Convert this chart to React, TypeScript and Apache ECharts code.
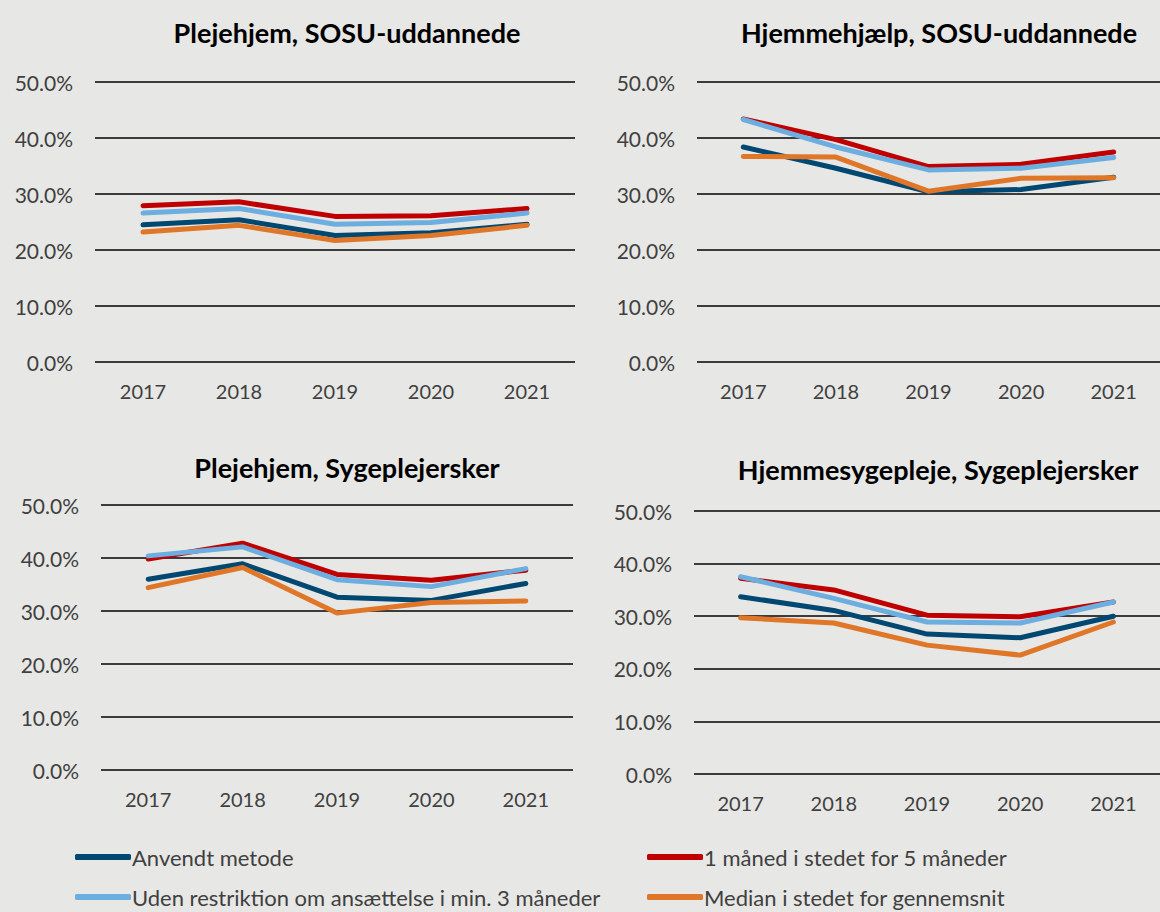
import React, { useEffect, useRef } from "react";
import * as echarts from "echarts";

const years = ["2017", "2018", "2019", "2020", "2021"];
const seriesNames = [
  "Anvendt metode",
  "1 måned i stedet for 5 måneder",
  "Uden restriktion om ansættelse i min. 3 måneder",
  "Median i stedet for gennemsnit",
];
const colors = ["#004872", "#C00000", "#6CAEE0", "#E07628"];
const titles = [
  "Plejehjem, SOSU-uddannede",
  "Hjemmehjælp, SOSU-uddannede",
  "Plejehjem, Sygeplejersker",
  "Hjemmesygepleje, Sygeplejersker",
];

// values in percent, series order: Anvendt, 1 måned, Uden restriktion, Median
const plejehjemSosu = [
  [24.5, 25.4, 22.6, 23.1, 24.6],
  [27.9, 28.6, 26.0, 26.1, 27.4],
  [26.6, 27.4, 24.6, 24.9, 26.6],
  [23.2, 24.4, 21.7, 22.6, 24.4],
];
const hjemmehjaelpSosu = [
  [38.4, 34.6, 30.4, 30.8, 33.0],
  [43.4, 39.7, 34.9, 35.3, 37.5],
  [43.3, 38.4, 34.3, 34.6, 36.5],
  [36.7, 36.6, 30.5, 32.8, 32.9],
];
const plejehjemSyge = [
  [36.0, 38.9, 32.6, 32.0, 35.2],
  [39.8, 42.8, 36.9, 35.8, 37.7],
  [40.4, 42.1, 35.9, 34.6, 38.0],
  [34.4, 38.2, 29.6, 31.6, 31.9],
];
const hjemmesygeplejeSyge = [
  [33.7, 31.1, 26.6, 25.9, 30.0],
  [37.2, 35.0, 30.2, 29.9, 32.7],
  [37.5, 33.4, 28.9, 28.7, 32.7],
  [29.7, 28.7, 24.5, 22.6, 28.9],
];
const panels = [plejehjemSosu, hjemmehjaelpSosu, plejehjemSyge, hjemmesygeplejeSyge];
const yTicks = { min: 0, max: 50, interval: 10 };

const FONT = "Lato, 'Open Sans', sans-serif";
const TEXT = "#404040";

export default function App() {
  const ref = useRef<HTMLDivElement>(null);
  useEffect(() => {
    document.body.style.margin = "0";
    if (!ref.current) return;
    const chart = echarts.init(ref.current, undefined, { renderer: "svg" });

    const grids = [
      { left: 95, top: 82, width: 480, height: 280 },
      { left: 697, top: 82, width: 467, height: 280 },
      { left: 101, top: 505, width: 472, height: 265 },
      { left: 694, top: 511, width: 470, height: 263 },
    ];
    const titlePos = [
      { left: 342, top: 14 },
      { left: 934, top: 14 },
      { left: 342, top: 449 },
      { left: 933, top: 451 },
    ];
    const legendPos = [
      { left: 75, top: 846 },
      { left: 647, top: 846 },
      { left: 75, top: 886 },
      { left: 647, top: 886 },
    ];

    const series: any[] = [];
    panels.forEach((panel, gi) => {
      panel.forEach((vals, si) => {
        series.push({
          type: "line",
          name: seriesNames[si],
          xAxisIndex: gi,
          yAxisIndex: gi,
          data: vals,
          symbol: "none",
          smooth: false,
          color: colors[si],
          lineStyle: { width: 5, color: colors[si], cap: "round", join: "round" },
        });
      });
    });

    chart.setOption({
      animation: false,
      backgroundColor: "#E7E7E5",
      textStyle: { fontFamily: FONT },
      title: titles.map((t, i) => ({
        text: t,
        left: titlePos[i].left,
        top: titlePos[i].top,
        textAlign: "center",
        textStyle: { fontFamily: FONT, fontSize: 27, fontWeight: "bold", color: "#000" },
      })),
      legend: seriesNames.map((n, i) => ({
        data: [n],
        left: legendPos[i].left,
        top: legendPos[i].top,
        padding: 0,
        icon: "roundRect",
        itemWidth: 56,
        itemHeight: 6,
        itemGap: 0,
        selectedMode: false,
        textStyle: { fontFamily: FONT, fontSize: 22, color: TEXT, padding: [0, 0, 0, -4] },
      })),
      grid: grids.map((g) => ({ ...g, containLabel: false })),
      xAxis: grids.map((_, i) => ({
        type: "category",
        gridIndex: i,
        data: years,
        boundaryGap: true,
        axisLine: { show: false },
        axisTick: { show: false },
        axisLabel: { fontFamily: FONT, fontSize: 20, color: TEXT, margin: 19 },
      })),
      yAxis: grids.map((_, i) => ({
        type: "value",
        gridIndex: i,
        min: yTicks.min,
        max: yTicks.max,
        interval: yTicks.interval,
        axisLine: { show: false },
        axisTick: { show: false },
        axisLabel: {
          fontFamily: FONT,
          fontSize: 21,
          color: TEXT,
          margin: 22,
          formatter: (v: number) => v.toFixed(1) + "%",
        },
        splitLine: { lineStyle: { color: "#3C3C3C", width: 2 } },
      })),
      series,
    });
    return () => chart.dispose();
  }, []);
  return <div ref={ref} style={{ width: 1160, height: 912 }} />;
}
